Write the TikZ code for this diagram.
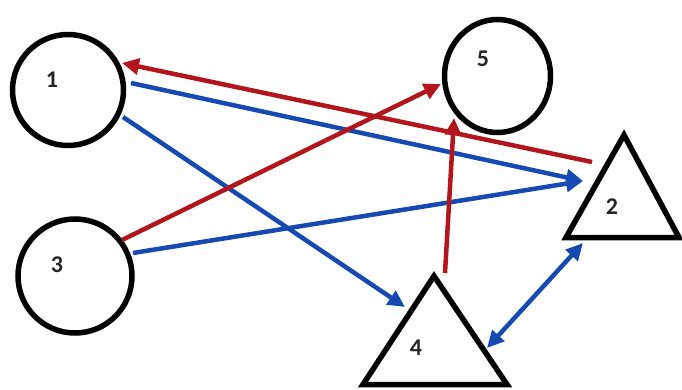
\documentclass[tikz,border=0pt]{standalone}
\usepackage{fontspec}
\setmainfont{Carlito}
\usetikzlibrary{arrows.meta,shapes.geometric}
\definecolor{arred}{RGB}{178,22,28}
\definecolor{arblue}{RGB}{22,74,178}
\tikzset{
  shapeline/.style={draw=black,line width=5.5pt,line join=miter},
  roundnode/.style={shapeline,circle,inner sep=0pt},
  lbl/.style={font=\fontsize{24}{24}\selectfont\bfseries,text=black!85,inner sep=0pt},
  redarrow/.style={draw=arred,line width=4.5pt,-{Triangle[length=17pt,width=16pt]}},
  bluearrow/.style={draw=arblue,line width=4.5pt,-{Triangle[length=17pt,width=16pt]}},
  bluedouble/.style={draw=arblue,line width=4.5pt,{Triangle[length=17pt,width=16pt]}-{Triangle[length=17pt,width=16pt]}}
}
\begin{document}
\begin{tikzpicture}[x=1pt,y=-1pt]
\useasboundingbox (0,0) rectangle (682,390);
\fill[white] (0,0) rectangle (682,390);
% shapes
\node[roundnode,minimum size=111pt] (c1) at (68,90) {};
\node[roundnode,minimum size=114pt] (c3) at (75,276) {};
\node[shapeline,ellipse,inner sep=0pt,minimum width=106pt,minimum height=113pt] (c5) at (497.5,76) {};
\coordinate (t2a) at (624,135);
\coordinate (t2b) at (566,237.5);
\coordinate (t2c) at (679,237.5);
\draw[shapeline] (t2a) -- (t2b) -- (t2c) -- cycle;
\coordinate (t4a) at (434,276);
\coordinate (t4b) at (363,384.5);
\coordinate (t4c) at (507,384.5);
\draw[shapeline] (t4a) -- (t4b) -- (t4c) -- cycle;
% labels
\node[lbl] (l1) at (52,80) {1};
\node[lbl] (l3) at (57,265) {3};
\node[lbl] (l5) at (483,59) {5};
\node[lbl] (l2) at (612,207) {2};
\node[lbl] (l4) at (416,348) {4};
% connector end points
\coordinate (s21) at (592,162);
\coordinate (e21) at (122,63);
\coordinate (s12) at (131,83);
\coordinate (e12) at (583,181);
\coordinate (s14) at (123,117);
\coordinate (e14) at (405,307);
\coordinate (s35) at (122,240);
\coordinate (e35) at (441,84);
\coordinate (s32) at (133,253);
\coordinate (e32) at (583,181);
\coordinate (s45) at (445,273);
\coordinate (e45) at (454,118);
\coordinate (s24) at (583,243);
\coordinate (e24) at (487,348);
% connectors
\draw[redarrow] (s21) -- (e21);
\draw[bluearrow] (s12) -- (e12);
\draw[bluearrow] (s14) -- (e14);
\draw[redarrow] (s35) -- (e35);
\draw[bluearrow] (s32) -- (e32);
\draw[redarrow] (s45) -- (e45);
\draw[bluedouble] (s24) -- (e24);
\end{tikzpicture}
\end{document}
